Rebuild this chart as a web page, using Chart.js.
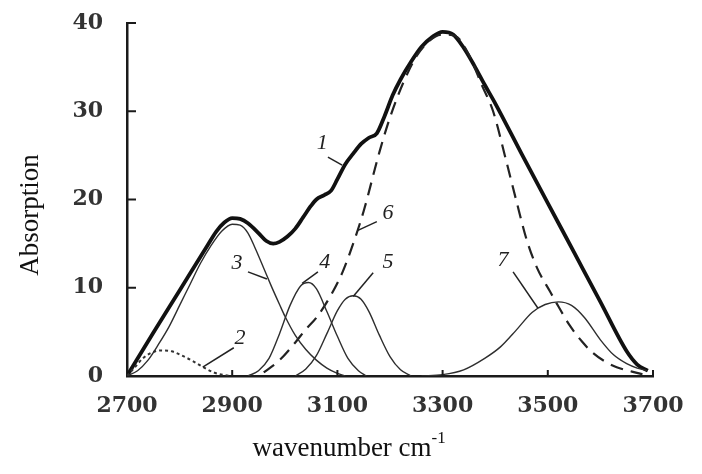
<!DOCTYPE html>
<html>
<head>
<meta charset="utf-8">
<script src="https://cdn.jsdelivr.net/npm/chart.js@4"></script>
<style>
  html, body { margin: 0; padding: 0; background: #fff; }
  canvas { display: block; }
</style>
</head>
<body>
<canvas id="irChart" width="702" height="474"></canvas>
<script>
// axis ticks
const xTicks = [2700, 2900, 3100, 3300, 3500, 3700];
const yTicks = [0, 10, 20, 30, 40];

// curve 1 - total band (thick)
const wn1 = [2700, 2750, 2800, 2850, 2870, 2885, 2900, 2915, 2930, 2950, 2965, 2978, 2990, 3005, 3020, 3035, 3050, 3060, 3075, 3088, 3100, 3115, 3130, 3145, 3160, 3175, 3190, 3205, 3220, 3240, 3260, 3280, 3300, 3320, 3340, 3360, 3380, 3400, 3450, 3500, 3550, 3600, 3650, 3670, 3690];
const abs1 = [0, 4.9, 9.7, 14.5, 16.4, 17.4, 17.9, 17.8, 17.3, 16.2, 15.3, 15.0, 15.2, 15.8, 16.7, 18.0, 19.3, 20.0, 20.5, 21.0, 22.3, 24.0, 25.2, 26.3, 27.0, 27.5, 29.5, 31.8, 33.6, 35.6, 37.3, 38.4, 39.0, 38.7, 37.2, 35.2, 33.0, 30.9, 25.2, 19.6, 14.0, 8.4, 2.8, 1.3, 0.6];

// curve 2 (dotted)
const wn2 = [2700, 2715, 2730, 2745, 2765, 2785, 2805, 2825, 2845, 2865, 2885, 2900];
const abs2 = [0, 1.0, 2.0, 2.6, 2.9, 2.8, 2.3, 1.7, 1.0, 0.4, 0.1, 0];

// curve 3
const wn3 = [2700, 2720, 2740, 2760, 2780, 2800, 2820, 2840, 2860, 2880, 2900, 2915, 2930, 2945, 2960, 2975, 2990, 3000, 3020, 3040, 3060, 3080, 3100, 3115];
const abs3 = [0, 0.6, 1.8, 3.6, 5.6, 8.0, 10.4, 12.8, 14.8, 16.4, 17.2, 17.1, 16.2, 14.3, 12.2, 10.1, 8.1, 6.8, 4.6, 3.0, 1.8, 0.9, 0.3, 0];

// curve 4
const wn4 = [2930, 2950, 2970, 2990, 3010, 3030, 3045, 3060, 3080, 3100, 3120, 3140, 3155];
const abs4 = [0, 0.6, 2.0, 4.8, 8.0, 10.2, 10.6, 9.9, 7.3, 4.5, 2.0, 0.6, 0];

// curve 5
const wn5 = [3020, 3040, 3060, 3080, 3100, 3115, 3130, 3145, 3160, 3180, 3200, 3220, 3240];
const abs5 = [0, 0.8, 2.3, 4.8, 7.4, 8.7, 9.1, 8.7, 7.3, 4.6, 2.2, 0.7, 0];

// curve 6 (dashed)
const wn6 = [2960, 2990, 3020, 3040, 3060, 3090, 3110, 3130, 3150, 3180, 3200, 3225, 3250, 3275, 3300, 3325, 3350, 3375, 3396, 3420, 3440, 3460, 3480, 3504, 3520, 3542, 3565, 3586, 3610, 3631, 3660, 3680];
const abs6 = [0.4, 1.8, 3.8, 5.3, 6.6, 9.4, 11.8, 15.0, 18.7, 25.4, 29.3, 33.2, 36.2, 38.0, 38.7, 38.5, 36.4, 32.9, 30.0, 24.6, 19.9, 15.4, 12.2, 9.6, 7.9, 5.7, 3.9, 2.6, 1.6, 1.0, 0.5, 0.2];

// curve 7
const wn7 = [3260, 3300, 3340, 3380, 3410, 3440, 3470, 3495, 3520, 3545, 3570, 3600, 3625, 3650, 3670, 3690];
const abs7 = [0, 0.15, 0.7, 2.0, 3.3, 5.2, 7.2, 8.1, 8.4, 8.0, 6.6, 4.1, 2.4, 1.4, 0.9, 0.6];

// curve number labels with pointer lines (data units)
const curveNotes = [
    { text: '1', at: [3071, 26.4], from: [3082, 24.8], to: [3109, 23.9] },
    { text: '2', at: [2915, 4.3], from: [2903, 3.2], to: [2844, 1.0] },
    { text: '3', at: [2909, 12.8], from: [2930, 11.8], to: [2966, 11.0] },
    { text: '4', at: [3076, 12.9], from: [3063, 11.8], to: [3033, 10.5] },
    { text: '5', at: [3196, 12.9], from: [3168, 11.7], to: [3130, 9.0] },
    { text: '6', at: [3196, 18.5], from: [3175, 17.5], to: [3139, 16.5] },
    { text: '7', at: [3415, 13.1], from: [3434, 11.8], to: [3481, 7.7] }
];

function pts(xs, ys) {
    return xs.map((x, i) => ({ x: x, y: ys[i] }));
}

function curve(xs, ys, color, width, dash) {
    return {
        data: pts(xs, ys),
        borderColor: color,
        borderWidth: width,
        borderDash: dash || [],
        cubicInterpolationMode: 'monotone',
        pointRadius: 0,
        fill: false
    };
}

// small tick marks drawn inside the plot
const innerTicks = {
    id: 'innerTicks',
    afterDraw(chart) {
        const {ctx, scales: {x, y}} = chart;
        ctx.save();
        ctx.strokeStyle = '#1a1a1a';
        ctx.lineWidth = 2;
        xTicks.slice(1).forEach(v => {
            const px = x.getPixelForValue(v);
            ctx.beginPath();
            ctx.moveTo(px, y.bottom);
            ctx.lineTo(px, y.bottom - 6);
            ctx.stroke();
        });
        yTicks.slice(1).forEach(v => {
            const py = y.getPixelForValue(v);
            ctx.beginPath();
            ctx.moveTo(x.left, py);
            ctx.lineTo(x.left + 9, py);
            ctx.stroke();
        });
        ctx.restore();
    }
};

const curveLabels = {
    id: 'curveLabels',
    afterDraw(chart) {
        const {ctx, scales: {x, y}} = chart;
        ctx.save();
        ctx.strokeStyle = '#222';
        ctx.fillStyle = '#222';
        ctx.lineWidth = 1.5;
        ctx.font = 'italic 22px "Liberation Serif"';
        ctx.textAlign = 'center';
        ctx.textBaseline = 'middle';
        curveNotes.forEach(n => {
            ctx.beginPath();
            ctx.moveTo(x.getPixelForValue(n.from[0]), y.getPixelForValue(n.from[1]));
            ctx.lineTo(x.getPixelForValue(n.to[0]), y.getPixelForValue(n.to[1]));
            ctx.stroke();
            ctx.fillText(n.text, x.getPixelForValue(n.at[0]), y.getPixelForValue(n.at[1]));
        });
        ctx.restore();
    }
};

const axisTitles = {
    id: 'axisTitles',
    afterDraw(chart) {
        const ctx = chart.ctx;
        ctx.save();
        ctx.fillStyle = '#111';
        ctx.font = '27px "Liberation Serif"';
        ctx.textBaseline = 'middle';
        ctx.textAlign = 'center';
        ctx.translate(31, 215);
        ctx.rotate(-Math.PI / 2);
        ctx.fillText('Absorption', 0, 0);
        ctx.restore();

        ctx.save();
        ctx.fillStyle = '#111';
        ctx.font = '27px "Liberation Serif"';
        ctx.textBaseline = 'alphabetic';
        ctx.textAlign = 'left';
        const main = 'wavenumber cm';
        const w = ctx.measureText(main).width;
        const left = 348 - (w + 12) / 2;
        ctx.fillText(main, left, 456);
        ctx.font = '17px "Liberation Serif"';
        ctx.fillText('-1', left + w, 443);
        ctx.restore();
    }
};

document.addEventListener('DOMContentLoaded', function () {
    const ctx = document.getElementById('irChart').getContext('2d');
    const tickFont = { family: '"DejaVu Serif"', size: 22, weight: 'bold' };

    new Chart(ctx, {
        type: 'line',
        data: {
            datasets: [
                curve(wn3, abs3, '#2e2e2e', 1.4),
                curve(wn4, abs4, '#2e2e2e', 1.4),
                curve(wn5, abs5, '#2e2e2e', 1.4),
                curve(wn7, abs7, '#2e2e2e', 1.4),
                curve(wn2, abs2, '#333', 2, [3, 3]),
                curve(wn6, abs6, '#222', 2.2, [13, 8]),
                curve(wn1, abs1, '#111', 3.8)
            ]
        },
        options: {
            responsive: false,
            animation: false,
            layout: { padding: { top: 23, right: 49, left: 0, bottom: 0 } },
            plugins: {
                legend: { display: false },
                tooltip: { enabled: false }
            },
            scales: {
                x: {
                    type: 'linear',
                    min: 2700,
                    max: 3700,
                    grid: { display: false, drawTicks: false },
                    border: { display: true, color: '#1a1a1a', width: 2.5 },
                    afterBuildTicks: s => { s.ticks = xTicks.map(v => ({ value: v })); },
                    afterFit: s => { s.height = 98; },
                    ticks: {
                        color: '#333',
                        font: tickFont,
                        padding: 17,
                        maxRotation: 0,
                        callback: v => String(v)
                    }
                },
                y: {
                    type: 'linear',
                    min: 0,
                    max: 40,
                    grid: { display: false, drawTicks: false },
                    border: { display: true, color: '#1a1a1a', width: 2.5 },
                    afterBuildTicks: s => { s.ticks = yTicks.map(v => ({ value: v })); },
                    afterFit: s => {
                        s.width = 127;
                        s.paddingTop = 0;
                        s.paddingBottom = 0;
                    },
                    ticks: {
                        color: '#333',
                        font: tickFont,
                        padding: 24,
                        callback: v => String(v)
                    }
                }
            }
        },
        plugins: [innerTicks, curveLabels, axisTitles]
    });
});
</script>
</body>
</html>
